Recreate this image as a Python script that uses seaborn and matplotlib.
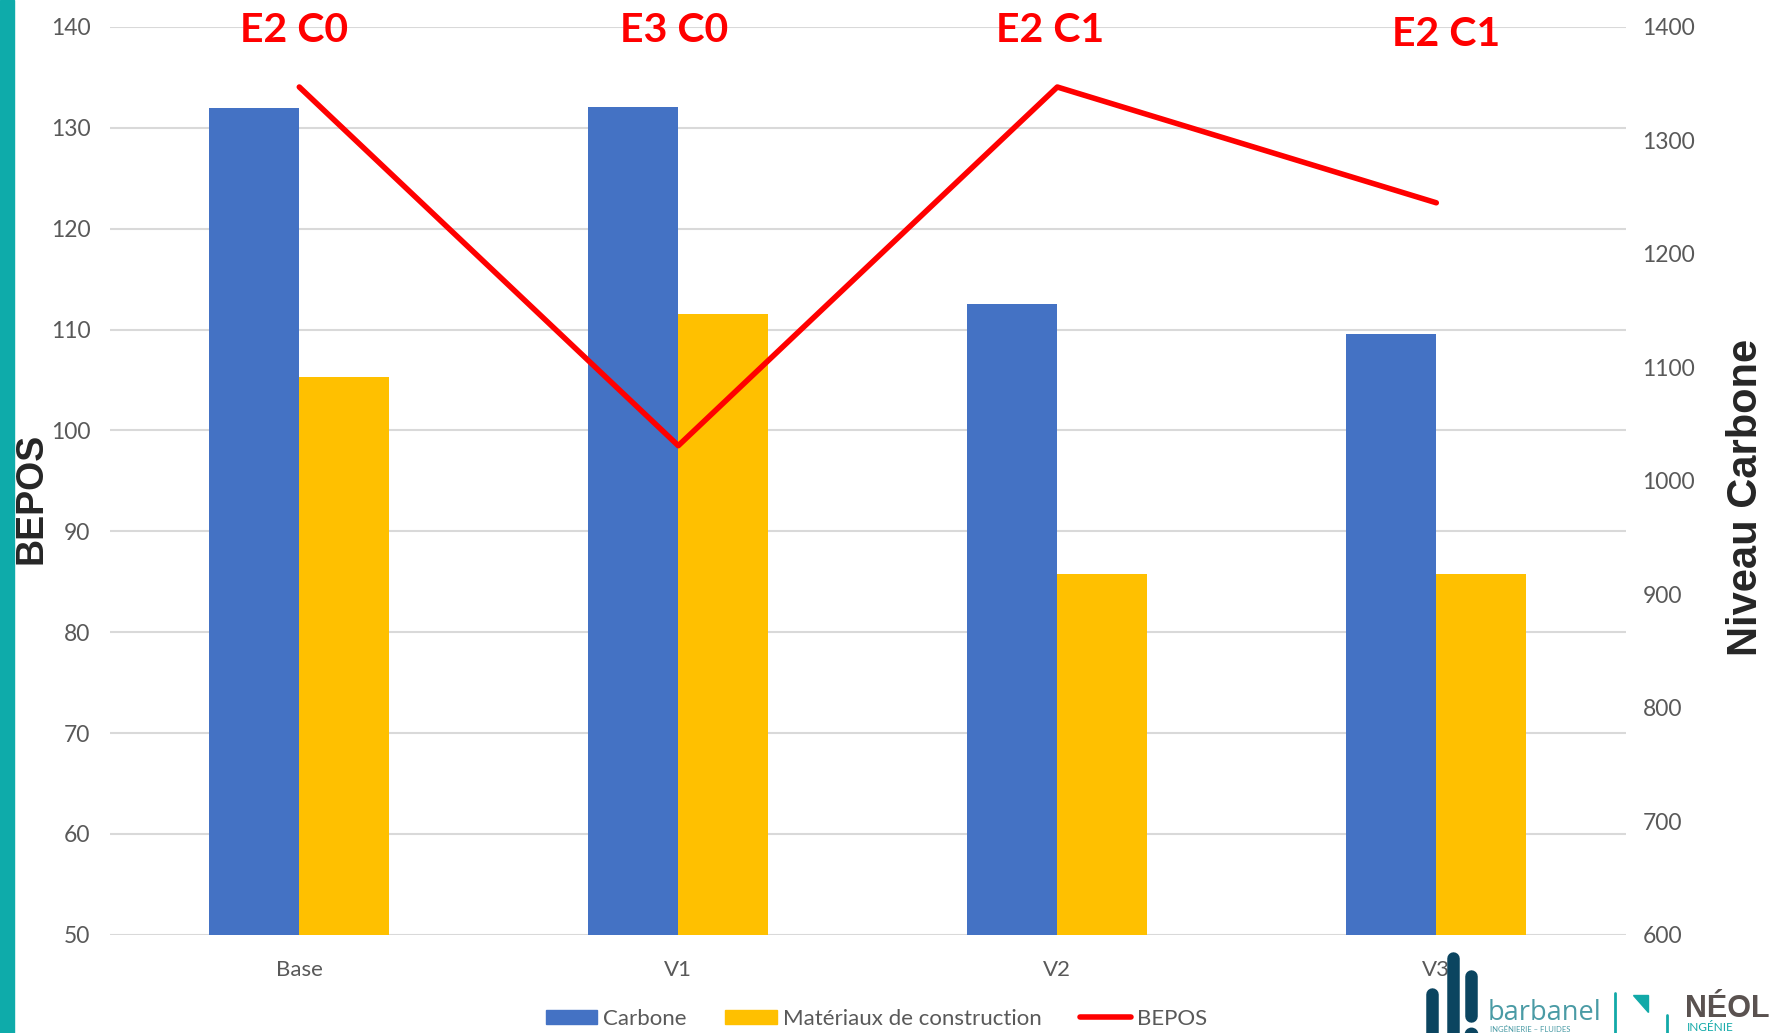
import numpy as np
import pandas as pd
import seaborn as sns
import matplotlib.pyplot as plt
from matplotlib.patches import Rectangle, Polygon
from matplotlib.lines import Line2D

variantes = ["Base", "V1", "V2", "V3"]
carbone = [132.0, 132.1, 112.5, 109.6]
materiaux = [105.3, 111.5, 85.8, 85.8]
bepos = [1347, 1031, 1347, 1245]
niveaux = ["E2 C0", "E3 C0", "E2 C1", "E2 C1"]

BLUE = "#4472C4"
YELLOW = "#FFC000"
RED = "#FF0000"
GRID = "#D9D9D9"
TXT = "#595959"

sns.set_style("white")
plt.rcParams["font.family"] = ["Lato", "DejaVu Sans"]

data = pd.DataFrame({
    "variante": variantes * 2,
    "valeur": carbone + materiaux,
    "serie": ["Carbone"] * 4 + ["Matériaux de construction"] * 4,
})

fig = plt.figure(figsize=(17.71, 10.33), dpi=100)
ax = fig.add_axes([0.062, 0.095, 0.856, 0.879])

sns.barplot(data=data, x="variante", y="valeur", hue="serie",
            palette=[BLUE, YELLOW], width=0.476, gap=0, saturation=1,
            linewidth=0, legend=False, ax=ax)
ax.set_ylim(50, 140)
ax.set_yticks(range(50, 141, 10))
ax.set_xlim(-0.5, 3.5)
ax.grid(axis="y", color=GRID, lw=1.5)
ax.set_axisbelow(True)
for s in ax.spines.values():
    s.set_visible(False)
ax.tick_params(axis="y", length=0, pad=14, labelsize=16.5, labelcolor=TXT)
ax.tick_params(axis="x", length=0, pad=18, labelsize=16, labelcolor=TXT)
ax.set_xlabel("")
ax.set_ylabel("")

ax2 = ax.twinx()
sns.lineplot(x=variantes, y=bepos, sort=False, color=RED, lw=4, ax=ax2)
ax2.set_ylim(600, 1400)
ax2.set_yticks(range(600, 1401, 100))
for s in ax2.spines.values():
    s.set_visible(False)
ax2.tick_params(axis="y", length=0, pad=12, labelsize=16.5, labelcolor=TXT)
ax2.set_ylabel("")

# niveaux E/C au-dessus de chaque variante
label_y = [139.66, 139.66, 139.66, 139.2]
label_dx = [-0.015, -0.012, -0.018, 0.027]
for i, (txt, yy, dx) in enumerate(zip(niveaux, label_y, label_dx)):
    ax.text(i + dx, yy, txt, color=RED, fontsize=29.5, fontweight="bold",
            ha="center", va="center", clip_on=False, zorder=5)

fig.text(0.018, 0.518, "BEPOS", rotation=90, ha="center", va="center",
         fontsize=27, fontweight="bold", family="Liberation Sans")
fig.text(0.986, 0.518, "Niveau Carbone", rotation=90, ha="center", va="center",
         fontsize=30, fontweight="bold", family="Liberation Sans")

handles = [Rectangle((0, 0), 1, 1, color=BLUE),
           Rectangle((0, 0), 1, 1, color=YELLOW),
           Line2D([], [], color=RED, lw=4)]
fig.legend(handles, ["Carbone", "Matériaux de construction", "BEPOS"],
           loc="center", bbox_to_anchor=(0.495, 0.0136), ncol=3, frameon=False,
           fontsize=16, labelcolor=TXT, handlelength=2.3, handleheight=0.63,
           handletextpad=0.27, columnspacing=1.75)

# bandeau teal à gauche
fig.patches.append(Rectangle((0, 0), 14 / 1771, 1, transform=fig.transFigure,
                             color="#0EABAA", zorder=0))

# logos (approximation)
W, H = 1771, 1033
NAVY = "#0B4560"
TEAL = "#12A9A8"
for xc, y0, y1 in [(1432, 994, 1045), (1453, 958, 1045), (1471, 976, 1016)]:
    fig.add_artist(Line2D([xc / W, xc / W], [1 - y0 / H, 1 - y1 / H], color=NAVY,
                          lw=9, solid_capstyle="round"))
fig.add_artist(Line2D([1471 / W], [1 - 1034 / H], marker="o", ms=9, color=NAVY))
fig.text(1488 / W, 1 - 1020 / H, "barbanel", color="#4A9BA5", fontsize=19.5,
         family="Open Sans", ha="left", va="baseline")
fig.text(1490 / W, 1 - 1032 / H, "INGÉNIERIE – FLUIDES", color="#4A9BA5",
         fontsize=5.5, ha="left", va="baseline")
fig.add_artist(Line2D([1615 / W, 1615 / W], [1 - 993 / H, 0], color=TEAL, lw=2))
fig.add_artist(Line2D([1667 / W, 1667 / W], [1 - 1015 / H, 0], color=TEAL, lw=2))
fig.patches.append(Polygon([(1633 / W, 1 - 995 / H), (1648 / W, 1 - 995 / H),
                            (1648 / W, 1 - 1012 / H)], closed=True,
                           transform=fig.transFigure, color=TEAL))
fig.text(1685 / W, 1 - 1017 / H, "NÉOL", color="#5A5250", fontsize=22,
         fontweight="bold", family="Liberation Sans", ha="left", va="baseline")
fig.text(1687 / W, 1 - 1031 / H, "INGÉNIE", color=TEAL, fontsize=8.5,
         ha="left", va="baseline")

fig.savefig("out.png", dpi=100)
